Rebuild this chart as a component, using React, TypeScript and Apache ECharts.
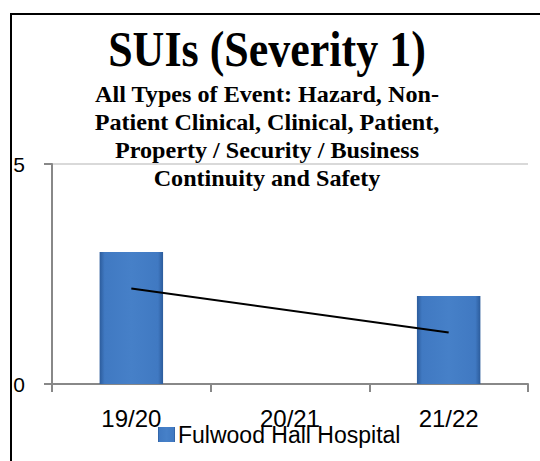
import React, { useEffect, useRef } from "react";
import * as echarts from "echarts";

const categories = ["19/20", "20/21", "21/22"];
const seriesName = "Fulwood Hall Hospital";
const barValues = [3, 0, 2];
const trendValues = [2.17, null, 1.17];
const yTicks = { min: 0, max: 5, interval: 5 };
const titleText = "SUIs (Severity 1)";
const subtitleLines = [
  "All Types of Event: Hazard, Non-",
  "Patient Clinical, Clinical, Patient,",
  "Property / Security / Business",
  "Continuity and Safety",
];

export default function App() {
  const ref = useRef<HTMLDivElement>(null);
  useEffect(() => {
    if (!ref.current) return;
    const chart = echarts.init(ref.current, undefined, { renderer: "svg" });
    const serif = "'Liberation Serif', 'Times New Roman', serif";
    const sans = "'Liberation Sans', Arial, sans-serif";
    const graphics: any[] = [
      { type: "line", shape: { x1: 10, y1: 14, x2: 540, y2: 14 }, style: { stroke: "#000", lineWidth: 2 }, z: 10 },
      { type: "line", shape: { x1: 11, y1: 13, x2: 11, y2: 461 }, style: { stroke: "#000", lineWidth: 2 }, z: 10 },
      {
        type: "text",
        x: 267,
        y: 49,
        scaleY: 1.15,
        style: {
          text: titleText,
          fontFamily: serif,
          fontWeight: "bold",
          fontSize: 44,
          fill: "#000",
          align: "center",
          verticalAlign: "middle",
        },
        z: 20,
      },
    ];
    subtitleLines.forEach((line, i) => {
      graphics.push({
        type: "text",
        x: 267,
        y: 94 + i * 28,
        scaleX: 1.05,
        style: {
          text: line,
          fontFamily: serif,
          fontWeight: "bold",
          fontSize: 23,
          fill: "#000",
          align: "center",
          verticalAlign: "middle",
        },
        z: 20,
      });
    });
    chart.setOption({
      animation: false,
      backgroundColor: "#fff",
      graphic: graphics,
      grid: { left: 52, right: 12, top: 164, bottom: 77, containLabel: false },
      legend: {
        data: [seriesName],
        left: 153,
        top: 418,
        itemWidth: 17,
        itemHeight: 15,
        icon: "rect",
        textStyle: { fontFamily: sans, fontSize: 23, color: "#000", padding: [0, 0, 0, -2] },
      },
      xAxis: {
        type: "category",
        data: categories,
        axisLine: { show: true, lineStyle: { color: "#888", width: 2 } },
        axisTick: { show: true, length: 8, lineStyle: { color: "#888", width: 2 }, alignWithLabel: false },
        axisLabel: { fontFamily: sans, fontSize: 24, color: "#000", margin: 22 },
        splitLine: { show: false },
      },
      yAxis: {
        type: "value",
        min: yTicks.min,
        max: yTicks.max,
        interval: yTicks.interval,
        axisLine: { show: true, lineStyle: { color: "#888", width: 2 } },
        axisTick: { show: true, length: 8, lineStyle: { color: "#888", width: 2 } },
        axisLabel: { fontFamily: sans, fontSize: 21, color: "#000", margin: 27 },
        splitLine: { show: true, lineStyle: { color: "#d9d9d9", width: 2 } },
      },
      series: [
        {
          name: seriesName,
          type: "bar",
          data: barValues,
          barWidth: "40%",
          itemStyle: {
            color: new echarts.graphic.LinearGradient(0, 0, 1, 0, [
              { offset: 0, color: "#2c5c9c" },
              { offset: 0.08, color: "#4079c2" },
              { offset: 0.5, color: "#4680c8" },
              { offset: 0.92, color: "#4079c2" },
              { offset: 1, color: "#2c5c9c" },
            ]),
            borderWidth: 0,
          },
          z: 2,
        },
        {
          name: "Trend",
          type: "line",
          data: trendValues,
          connectNulls: true,
          symbol: "none",
          lineStyle: { color: "#000", width: 2 },
          z: 5,
        },
      ],
    });
    return () => chart.dispose();
  }, []);
  return (
    <div
      ref={ref}
      style={{ position: "absolute", left: 0, top: 0, width: 540, height: 461 }}
    />
  );
}
